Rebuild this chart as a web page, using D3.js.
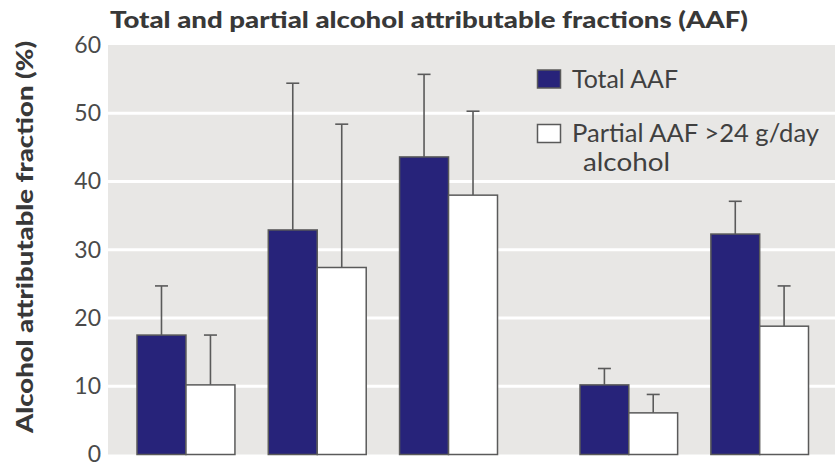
<!DOCTYPE html>
<html>
<head>
<meta charset="utf-8">
<script src="https://cdn.jsdelivr.net/npm/d3@7/dist/d3.min.js"></script>
<style>
  html, body { margin: 0; padding: 0; background: #ffffff; }
  svg { display: block; }
  text { font-family: Lato, "Open Sans", sans-serif; }
</style>
</head>
<body>
<svg id="chart" width="835" height="464"></svg>
<script>
// Groups: the first three form one block, the last two a second block
const categoriesLeft = ["Group 1", "Group 2", "Group 3"];
const categoriesRight = ["Group 4", "Group 5"];
const seriesNames = ["Total AAF", "Partial AAF >24 g/day alcohol"];

// Bar heights (%) and upper ends of the error bars (%)
const totalAAF = [17.5, 32.9, 43.6, 10.2, 32.3];
const totalUpper = [24.7, 54.4, 55.7, 12.6, 37.1];
const partialAAF = [10.2, 27.4, 38.0, 6.1, 18.8];
const partialUpper = [17.5, 48.4, 50.3, 8.8, 24.7];

const yTicks = [0, 10, 20, 30, 40, 50, 60];
const titleText = "Total and partial alcohol attributable fractions (AAF)";
const yAxisTitle = "Alcohol attributable fraction (%)";

const colors = { total: "#27237a", partial: "#ffffff" };
const svg = d3.select("#chart");

const plot = { left: 108, right: 835, top: 45, bottom: 454.5 };

const y = d3.scaleLinear().domain([0, 60]).range([plot.bottom, plot.top]);

// Grey panel and white gridlines
svg.append("rect")
  .attr("x", plot.left).attr("y", y(60))
  .attr("width", plot.right - plot.left).attr("height", y(0) - y(60))
  .attr("fill", "#e8e7e5");

svg.append("g").selectAll("line")
  .data(yTicks.filter(t => t > 0 && t < 60))
  .join("line")
  .attr("x1", plot.left).attr("x2", plot.right)
  .attr("y1", d => y(d)).attr("y2", d => y(d))
  .attr("stroke", "#ffffff").attr("stroke-width", 3);

// Y axis labels
const yAxis = d3.axisLeft(y).tickValues(yTicks).tickSize(0).tickPadding(0);
const yg = svg.append("g").attr("transform", "translate(101,0)").call(yAxis);
yg.select(".domain").remove();
yg.selectAll("text")
  .attr("font-family", "Lato, 'Open Sans', sans-serif")
  .attr("font-size", 23)
  .attr("fill", "#4a4a4a")
  .attr("dy", "0.32em");

// Helper: squeeze a text element into a target width
function fitWidth(sel, w) {
  sel.attr("textLength", w).attr("lengthAdjust", "spacingAndGlyphs");
}

// Two blocks of grouped bars
const blocks = [
  { cats: categoriesLeft, offset: 0, range: [137, 497.5] },
  { cats: categoriesRight, offset: 3, range: [580, 808.5] }
];

const rows = [];
blocks.forEach(b => {
  const x0 = d3.scaleBand().domain(b.cats).range(b.range).paddingInner(0.254).paddingOuter(0);
  const x1 = d3.scaleBand().domain(seriesNames).range([0, x0.bandwidth()]).padding(0);
  b.cats.forEach((c, i) => {
    const k = b.offset + i;
    rows.push({ key: seriesNames[0], x: x0(c) + x1(seriesNames[0]), w: x1.bandwidth(), v: totalAAF[k], up: totalUpper[k], fill: colors.total });
    rows.push({ key: seriesNames[1], x: x0(c) + x1(seriesNames[1]), w: x1.bandwidth(), v: partialAAF[k], up: partialUpper[k], fill: colors.partial });
  });
});

const stroke = "#5a5a5a";
const capHalf = 6.5;

// Error bars (upper only), drawn beneath the bars
const eg = svg.append("g").attr("stroke", stroke).attr("stroke-width", 1.6);
eg.selectAll("line.stem").data(rows).join("line")
  .attr("class", "stem")
  .attr("x1", d => d.x + d.w / 2).attr("x2", d => d.x + d.w / 2)
  .attr("y1", d => y(d.v)).attr("y2", d => y(d.up));
eg.selectAll("line.cap").data(rows).join("line")
  .attr("class", "cap")
  .attr("x1", d => d.x + d.w / 2 - capHalf).attr("x2", d => d.x + d.w / 2 + capHalf)
  .attr("y1", d => y(d.up)).attr("y2", d => y(d.up));

svg.append("g").selectAll("rect").data(rows).join("rect")
  .attr("x", d => d.x).attr("y", d => y(d.v))
  .attr("width", d => d.w).attr("height", d => y(0) - y(d.v))
  .attr("fill", d => d.fill)
  .attr("stroke", stroke).attr("stroke-width", 1.5);

// Title
svg.append("text")
  .attr("x", 110).attr("y", 28)
  .attr("font-size", 23).attr("font-weight", 900)
  .attr("fill", "#383838")
  .text(titleText)
  .call(fitWidth, 638);

// Y axis title
svg.append("text")
  .attr("transform", "translate(33,237) rotate(-90)")
  .attr("text-anchor", "middle")
  .attr("font-size", 23).attr("font-weight", 900)
  .attr("fill", "#383838")
  .text(yAxisTitle)
  .call(fitWidth, 392);

// Legend
const legend = svg.append("g");
legend.append("rect").attr("x", 537.5).attr("y", 70).attr("width", 23).attr("height", 18)
  .attr("fill", colors.total).attr("stroke", stroke).attr("stroke-width", 1.5);
legend.append("rect").attr("x", 537.5).attr("y", 124.5).attr("width", 23).attr("height", 18)
  .attr("fill", colors.partial).attr("stroke", stroke).attr("stroke-width", 1.5);

legend.append("text").attr("x", 572).attr("y", 88)
  .attr("font-size", 25).attr("fill", "#404040")
  .text(seriesNames[0]).call(fitWidth, 106);
legend.append("text").attr("x", 572).attr("y", 141.5)
  .attr("font-size", 25).attr("fill", "#404040")
  .text("Partial AAF >24 g/day").call(fitWidth, 247);
legend.append("text").attr("x", 583).attr("y", 170.5)
  .attr("font-size", 25).attr("fill", "#404040")
  .text("alcohol").call(fitWidth, 87);
</script>
</body>
</html>
